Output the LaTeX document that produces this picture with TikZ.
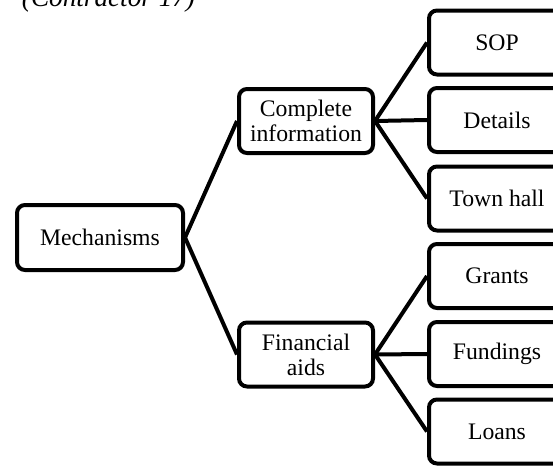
\documentclass[tikz,border=0pt]{standalone}
\usepackage{fontspec}
\setmainfont{Liberation Serif}
\usetikzlibrary{positioning}

\begin{document}
\begin{tikzpicture}[x=0.5pt,y=-0.5pt,line width=2pt]
  % pixel grid of the reference, y downwards
  \def\mx{100}
  \def\ix{306}
  \def\lx{497}
  \tikzset{
    box/.style={draw, line width=2pt, rounded corners=4pt, align=center,
      inner sep=0pt, minimum height=32pt,
      font=\fontsize{11.85}{12.6}\selectfont},
    midbox/.style={box, minimum width=67pt},
    leafbox/.style={box, minimum width=68pt},
    link/.style={line width=2pt}
  }
  \useasboundingbox (0,0) rectangle (553,467);

  % title, cut at the top edge as in the source
  \node[anchor=base west, inner sep=0pt, font=\fontsize{13.6}{16}\itshape]
    (title) at (20,6) {(Contractor 17)};

  % root
  \node[box, minimum width=83pt, minimum height=32.5pt] (mech) at (\mx,237.5) {Mechanisms};

  % middle level
  \node[midbox] (info) at (\ix,121) {Complete\\information};
  \node[midbox] (fin) at (\ix,354.5) {Financial\\aids};

  % leaves
  \node[leafbox] (sop) at (\lx,42.5) {SOP};
  \node[leafbox] (details) at (\lx,120) {Details};
  \node[leafbox] (townhall) at (\lx,198.5) {Town hall};
  \node[leafbox] (grants) at (\lx,276) {Grants};
  \node[leafbox] (fundings) at (\lx,354) {Fundings};
  \node[leafbox] (loans) at (\lx,431.5) {Loans};

  % links
  \draw[link] (mech.east) -- (info.west);
  \draw[link] (mech.east) -- (fin.west);
  \foreach \t in {sop,details,townhall}
    \draw[link] (info.east) -- (\t.west);
  \foreach \t in {grants,fundings,loans}
    \draw[link] (fin.east) -- (\t.west);
\end{tikzpicture}
\end{document}
